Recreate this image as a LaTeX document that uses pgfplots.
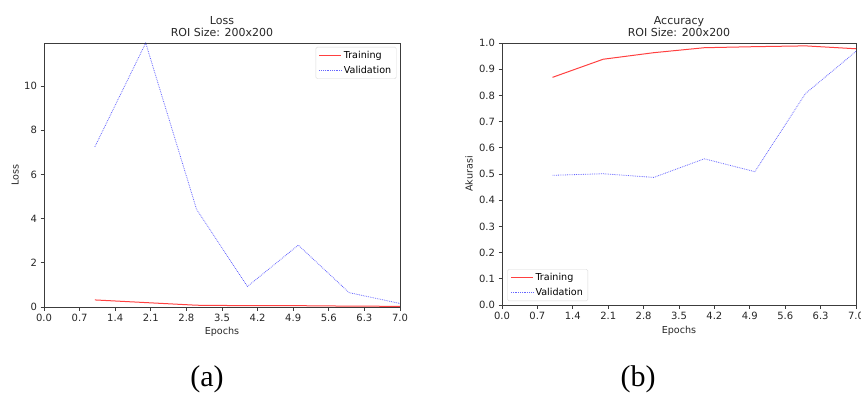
\documentclass[border=0pt]{standalone}
\usepackage{fontspec}
\setmainfont{DejaVu Sans}
\newfontfamily\capfont{Liberation Serif}
\usepackage{pgfplots}
\pgfplotsset{compat=1.18}
\definecolor{spine}{RGB}{60,60,60}
\pgfplotsset{
  mpl/.style={
    scale only axis,
    xmin=0, xmax=7,
    xtick={0,0.7,1.4,2.1,2.8,3.5,4.2,4.9,5.6,6.3,7.0},
    xticklabel style={/pgf/number format/.cd,fixed,fixed zerofill,precision=1},
    /pgf/number format/assume math mode=true,
    tick label style={font=\fontsize{10}{11}\selectfont, color=black!85},
    label style={font=\fontsize{9.6}{11}\selectfont, color=black!85},
    title style={font=\fontsize{11}{12}\selectfont, align=center, inner sep=0pt, yshift=0.5pt, color=black!85},
    axis line style={spine, line width=0.8pt},
    tick style={spine, line width=0.7pt},
    tick align=outside,
    xtick pos=bottom, ytick pos=left,
    major tick length=3.5pt,
    legend style={font=\fontsize{9.6}{11}\selectfont, draw=black!15, rounded corners=1.5pt, inner xsep=3pt, inner ysep=2pt, row sep=2pt},
    legend cell align=left,
    legend image code/.code={\draw[##1] (0pt,0pt) -- (22pt,0pt);},
  },
  trn/.style={red, line width=1pt, opacity=0.75},
  val/.style={blue, densely dotted, line width=0.8pt, opacity=0.6},
}
\begin{document}
\begin{tikzpicture}[x=1pt,y=1pt]
\useasboundingbox (0,0) rectangle (861,394);
\clip (0,0) rectangle (861,394);
\begin{axis}[mpl,
  at={(44pt,87pt)}, anchor=south west,
  width=356pt, height=264pt,
  ymin=0, ymax=11.95,
  ytick={0,2,4,6,8,10},
  title={Loss\\ROI Size: 200x200},
  xlabel={Epochs}, ylabel={Loss},
  xlabel style={at={(axis description cs:0.5,-0.095)}, anchor=center},
  ylabel style={at={(axis description cs:-0.081,0.5)}, anchor=center},
  legend style={at={(0.99,0.985)}, anchor=north east},
]
\addplot[trn] coordinates {(1,0.32) (2,0.20) (3,0.08) (4,0.06) (5,0.06) (6,0.04) (7,0.03)};
\addlegendentry{Training}
\addplot[val] coordinates {(1,7.25) (2,11.95) (3,4.42) (4,0.93) (5,2.80) (6,0.65) (7,0.16)};
\addlegendentry{Validation}
\end{axis}
\begin{axis}[mpl,
  at={(502pt,89pt)}, anchor=south west,
  width=354pt, height=262pt,
  ymin=0, ymax=1,
  ytick={0,0.1,0.2,0.3,0.4,0.5,0.6,0.7,0.8,0.9,1.0},
  yticklabel style={/pgf/number format/.cd,fixed,fixed zerofill,precision=1},
  title={Accuracy\\ROI Size: 200x200},
  xlabel={Epochs}, ylabel={Akurasi},
  xlabel style={at={(axis description cs:0.5,-0.1)}, anchor=center},
  ylabel style={at={(axis description cs:-0.093,0.5)}, anchor=center},
  legend style={at={(0.015,0.015)}, anchor=south west},
]
\addplot[trn] coordinates {(1,0.869) (2,0.938) (3,0.963) (4,0.982) (5,0.986) (6,0.989) (7,0.978)};
\addlegendentry{Training}
\addplot[val] coordinates {(1,0.495) (2,0.501) (3,0.487) (4,0.558) (5,0.509) (6,0.807) (7,0.968)};
\addlegendentry{Validation}
\end{axis}
\node[font=\capfont\fontsize{30}{31}\selectfont, anchor=north, inner sep=0pt] at (207,29) {(a)};
\node[font=\capfont\fontsize{30}{31}\selectfont, anchor=north, inner sep=0pt] at (638,29) {(b)};
\end{tikzpicture}
\end{document}
